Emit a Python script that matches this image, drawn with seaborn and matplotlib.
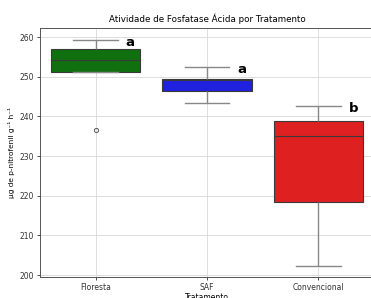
import matplotlib
matplotlib.use("Agg")
import matplotlib.pyplot as plt
import pandas as pd
import seaborn as sns

# Replicate values (min/Q1/median/Q3/max, Floresta with one outlier)
floresta = [236.6, 251.2, 254.2, 257.0, 259.3]
saf = [243.5, 246.5, 249.2, 249.4, 252.4]
convencional = [202.4, 218.5, 235.1, 238.8, 242.7]

tratamentos = ["Floresta", "SAF", "Convencional"]
cores = ["green", "blue", "red"]
letras = ["a", "a", "b"]

df = pd.DataFrame({
    "Tratamento": ["Floresta"] * len(floresta) + ["SAF"] * len(saf) + ["Convencional"] * len(convencional),
    "valor": floresta + saf + convencional,
})

plt.rcParams["font.family"] = ["DejaVu Sans"]
fig = plt.figure(figsize=(3.71, 2.98), dpi=100)
ax = fig.add_axes([40 / 371, 21 / 298, 334 / 371, 249 / 298])

sns.boxplot(
    data=df, x="Tratamento", y="valor", hue="Tratamento",
    order=tratamentos, hue_order=tratamentos, palette=cores,
    width=0.8, linewidth=0.8, linecolor="#3a3a3a", fliersize=3,
    whiskerprops={"color": "#888888", "linewidth": 1.0},
    capprops={"color": "#888888", "linewidth": 1.0},
    flierprops={"markeredgecolor": "#555555", "markeredgewidth": 0.7},
    legend=False, ax=ax,
)

# letters of significance next to the upper whisker
for i, nome in enumerate(tratamentos):
    vals = df.loc[df["Tratamento"] == nome, "valor"]
    q1, q3 = vals.quantile([0.25, 0.75])
    topo = vals[vals <= q3 + 1.5 * (q3 - q1)].max()
    ax.text(i + 0.27, topo - 0.6, letras[i], fontsize=9.5, fontweight="bold",
            ha="left", va="center", color="black")

ax.set_ylim(199.5, 262.3)
ax.set_xlim(-0.5, 2.5)
ax.set_axisbelow(True)
ax.grid(True, color="#d8d8d8", linewidth=0.6)
ax.set_title("Atividade de Fosfatase Ácida por Tratamento", fontsize=6.3, pad=4)
ax.set_xlabel("Tratamento", fontsize=5.5, labelpad=0.5)
ax.set_ylabel("µg de p-nitrofenil g⁻¹ h⁻¹", fontsize=5.3, labelpad=3)
ax.tick_params(labelsize=5.5, length=2.5, width=0.6, colors="#333333", pad=2)
for s in ax.spines.values():
    s.set_color("#555555")
    s.set_linewidth(0.7)

fig.savefig("out.png", dpi=100)
